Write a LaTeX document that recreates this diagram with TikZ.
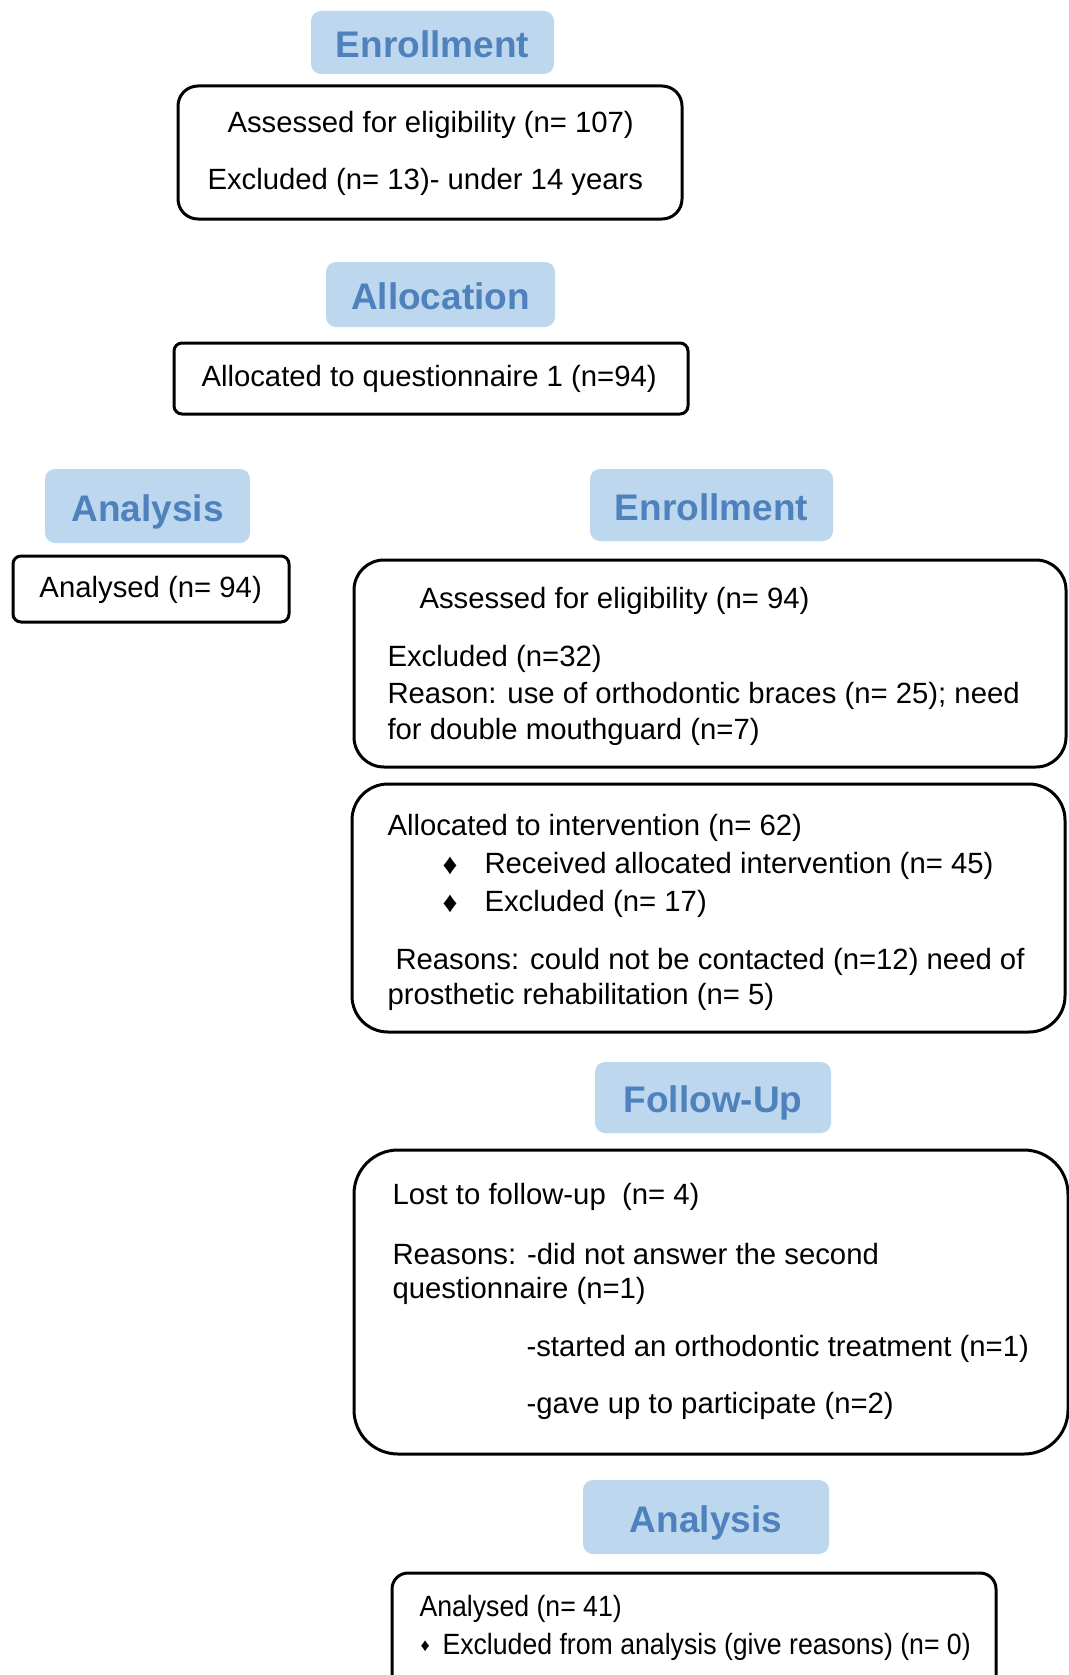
\documentclass[tikz,border=0pt]{standalone}
\usepackage{fontspec}
\setmainfont{Liberation Sans}
\newfontfamily\narrowfont[FakeStretch=0.91]{Liberation Sans}
\usetikzlibrary{positioning}

\definecolor{stagefill}{RGB}{189,215,238}
\definecolor{stagetext}{RGB}{79,129,189}

\begin{document}
\begin{tikzpicture}[
            x = 0.5pt, y = -0.5pt, % pixel grid, y runs down
            line width = 1.5pt, % box outline
            every node/.style = {inner sep = 0pt, font = \fontsize{14.65}{17}\selectfont}
        ]

        \tikzstyle{stage}=[
            fill = stagefill,
            text = stagetext,
            rounded corners = 5pt,
            text height = 15pt,
            text depth = 0pt,
            font = \fontsize{18.5}{22}\selectfont\bfseries
        ]
        \tikzstyle{flowbox}=[draw, rounded corners = 10pt]
        \tikzstyle{line}=[anchor = west, yshift = -0.75pt]

        \clip (0,0) rectangle (1069,1675);

	% ENROLLMENT
        \node[stage, minimum width = 121.5pt, minimum height = 31.5pt] (S1) at (432.5,42.5) {Enrollment};
        \node[flowbox, minimum width = 252pt, minimum height = 66.5pt] (B1) at (430,152.5) {};
        \node[line] (B1a) at (226,123) {Assessed for eligibility (n= 107)};
        \node[line] (B1b) at (206,180) {Excluded (n= 13)- under 14 years};

	% ALLOCATION
        \node[stage, minimum width = 114.5pt, minimum height = 32.5pt] (S2) at (440.5,294.5) {Allocation};
        \node[flowbox, rounded corners = 4pt, minimum width = 257pt, minimum height = 35.5pt] (B2) at (431,378.5) {};
        \node[line] (B2a) at (200,377) {Allocated to questionnaire 1 (n=94)};

	% ANALYSIS OF QUESTIONNAIRE 1
        \node[stage, minimum width = 102.5pt, minimum height = 37pt] (S3) at (147.5,506) {Analysis};
        \node[flowbox, rounded corners = 4pt, minimum width = 138pt, minimum height = 33pt] (B3) at (151,589) {};
        \node[line] (B3a) at (38,588) {Analysed (n= 94)};

	% SECOND ENROLLMENT
        \node[stage, minimum width = 121.5pt, minimum height = 36pt] (S4) at (711.5,505) {Enrollment};
        \node[flowbox, rounded corners = 15pt, minimum width = 356pt, minimum height = 103.5pt] (B4) at (710,663.5) {};
        \node[line] (B4a) at (418,599) {Assessed for eligibility (n= 94)};
        \node[line] (B4b) at (386,657) {Excluded (n=32)};
        \node[line] (B4c) at (386,694) {Reason: use of orthodontic braces (n= 25); need};
        \node[line] (B4d) at (386,730) {for double mouthguard (n=7)};

        \node[flowbox, rounded corners = 18pt, minimum width = 356.5pt, minimum height = 124pt] (B5) at (708.5,908) {};
        \node[line] (B5a) at (386,826) {Allocated to intervention (n= 62)};
        \node[line] (B5d1) at (441,864) {♦};
        \node[line] (B5b) at (483,864) {Received allocated intervention (n= 45)};
        \node[line] (B5d2) at (441,902) {♦};
        \node[line] (B5c) at (483,902) {Excluded (n= 17)};
        \node[line] (B5e) at (394,960) {Reasons: could not be contacted (n=12) need of};
        \node[line] (B5f) at (386,995) {prosthetic rehabilitation (n= 5)};

	% FOLLOW-UP
        \node[stage, minimum width = 118pt, minimum height = 35.5pt] (S5) at (713,1097.5) {Follow-Up};
        \node[flowbox, rounded corners = 22pt, minimum width = 357pt, minimum height = 152pt] (B6) at (711,1302) {};
        \node[line] (B6a) at (391,1195) {Lost to follow-up~~(n= 4)};
        \node[line] (B6b) at (391,1253) {Reasons: -did not answer the second};
        \node[line] (B6c) at (391,1289) {questionnaire (n=1)};
        \node[line] (B6d) at (525,1347) {-started an orthodontic treatment (n=1)};
        \node[line] (B6e) at (525,1404) {-gave up to participate (n=2)};

	% FINAL ANALYSIS
        \node[stage, minimum width = 123pt, minimum height = 37pt] (S6) at (706,1517) {Analysis};
        \node[flowbox, rounded corners = 8pt, minimum width = 302pt, minimum height = 73.5pt] (B7) at (694,1646.5) {};
        \node[line, font = \fontsize{14.65}{17}\narrowfont] (B7a) at (418,1607.5) {Analysed (n= 41)};
        \node[line, font = \fontsize{9}{11}\selectfont] (B7d) at (419,1645) {♦};
        \node[line, font = \fontsize{14.65}{17}\narrowfont] (B7b) at (441,1645) {Excluded from analysis (give reasons) (n= 0)};

  \end{tikzpicture}
\end{document}
